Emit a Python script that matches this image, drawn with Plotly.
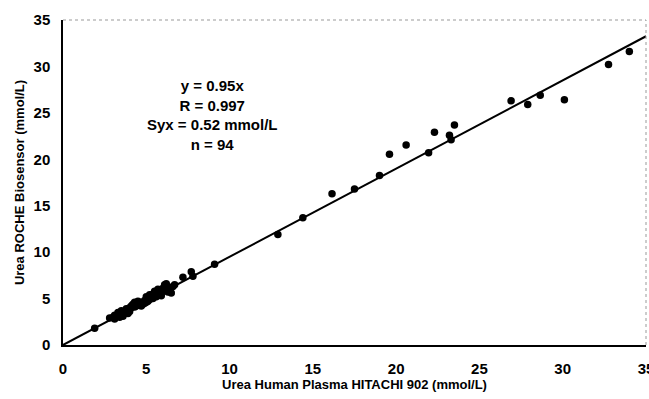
import plotly.graph_objects as go

# Data (x: HITACHI 902, y: ROCHE Biosensor), mmol/L
hitachi = [
    1.9, 2.8, 3.0, 3.1, 3.2, 3.3, 3.4, 3.5, 3.6, 3.7, 3.8, 3.9, 3.3, 3.5, 3.6, 3.9,
    4.0, 4.1, 4.2, 4.3, 4.4, 4.5, 4.6, 4.7, 4.8, 4.9, 4.3, 4.5, 4.7, 5.0, 5.1, 5.2,
    5.3, 5.4, 5.5, 5.0, 5.2, 5.6, 5.7, 5.8, 5.9, 5.5, 5.7, 5.8, 6.0, 6.1, 6.2, 6.3,
    6.4, 6.5, 6.6, 6.7, 6.2, 6.4, 6.0, 7.2, 7.7, 7.8, 9.1,
    3.4, 3.8, 4.0, 4.2, 4.4, 4.6, 4.8, 5.1, 5.3, 5.4, 5.6, 5.9, 6.1, 4.1, 4.9, 5.0, 3.1,
    12.9, 14.4, 16.15, 17.5, 19.0, 19.6, 20.6, 21.95, 22.3, 23.2, 23.3, 23.5,
    26.9, 27.9, 28.65, 30.1, 32.75, 34.0,
]
roche = [
    1.8, 2.9, 3.0, 2.8, 3.1, 3.2, 3.0, 3.4, 3.3, 3.6, 3.5, 3.7, 3.5, 3.7, 3.1, 3.4,
    3.6, 4.2, 4.4, 4.1, 4.5, 4.3, 4.4, 4.2, 4.6, 4.5, 4.6, 4.7, 4.5, 4.8, 5.0, 4.9,
    5.2, 5.0, 5.3, 5.2, 5.4, 5.5, 5.4, 5.6, 5.3, 5.8, 6.0, 5.7, 5.8, 6.5, 6.0, 5.7,
    6.2, 5.6, 6.3, 6.5, 6.6, 5.8, 6.1, 7.3, 7.9, 7.4, 8.7,
    3.3, 3.9, 4.0, 4.3, 4.2, 4.6, 4.4, 4.7, 5.1, 5.5, 5.2, 5.7, 5.9, 4.0, 4.8, 4.6, 3.2,
    11.9, 13.7, 16.3, 16.8, 18.25, 20.55, 21.55, 20.7, 22.9, 22.6, 22.1, 23.7,
    26.3, 25.9, 26.9, 26.4, 30.2, 31.6,
]
slope = 0.95
fit_x = [0, 35]
fit_y = [slope * v for v in fit_x]
ticks = [0, 5, 10, 15, 20, 25, 30, 35]
stats_text = "y = 0.95x<br>R = 0.997<br>Syx = 0.52 mmol/L<br>n = 94"

FONT = "Liberation Sans, Arial, sans-serif"

fig = go.Figure()
fig.add_trace(go.Scatter(x=fit_x, y=fit_y, mode="lines",
                         line=dict(color="black", width=2), hoverinfo="skip"))
fig.add_trace(go.Scatter(x=hitachi, y=roche, mode="markers",
                         marker=dict(color="black", size=7.5, line=dict(width=0))))

fig.add_annotation(text="<b>" + stats_text + "</b>", xref="paper", yref="paper",
                   x=0.2556, y=0.709, xanchor="center", yanchor="middle",
                   showarrow=False, align="center",
                   font=dict(family=FONT, size=15, color="black"))

# gray top/right frame
fig.add_shape(type="line", xref="paper", yref="paper", x0=0, x1=1, y0=1, y1=1,
              line=dict(color="#999999", width=1, dash="dot"))
fig.add_shape(type="line", xref="paper", yref="paper", x0=1, x1=1, y0=0, y1=1,
              line=dict(color="#999999", width=1, dash="dot"))

fig.update_layout(
    width=649, height=399,
    margin=dict(l=63, r=3, t=20, b=54),
    paper_bgcolor="white", plot_bgcolor="white",
    showlegend=False,
    font=dict(family=FONT, size=15, color="black"),
    xaxis=dict(range=[0, 35], tickvals=ticks, ticktext=[f"<b>{t}</b>" for t in ticks],
               showgrid=False, zeroline=False, showline=True, linecolor="black",
               linewidth=1.5, ticks="", ticklen=0, ticklabelstandoff=9,
               ticklabeloverflow="allow", automargin=False,
               tickfont=dict(family=FONT, size=15),
               title=dict(text="<b>Urea Human Plasma HITACHI 902 (mmol/L)</b>",
                          font=dict(family=FONT, size=13), standoff=4)),
    yaxis=dict(range=[0, 35], tickvals=ticks, ticktext=[f"<b>{t}</b>" for t in ticks],
               showgrid=False, zeroline=False, showline=True, linecolor="black",
               linewidth=1.5, ticks="", ticklen=0, ticklabelstandoff=8,
               tickfont=dict(family=FONT, size=15),
               title=dict(text="<b>Urea ROCHE Biosensor (mmol/L)</b>",
                          font=dict(family=FONT, size=13), standoff=6)),
)

fig.write_html("out.html")
